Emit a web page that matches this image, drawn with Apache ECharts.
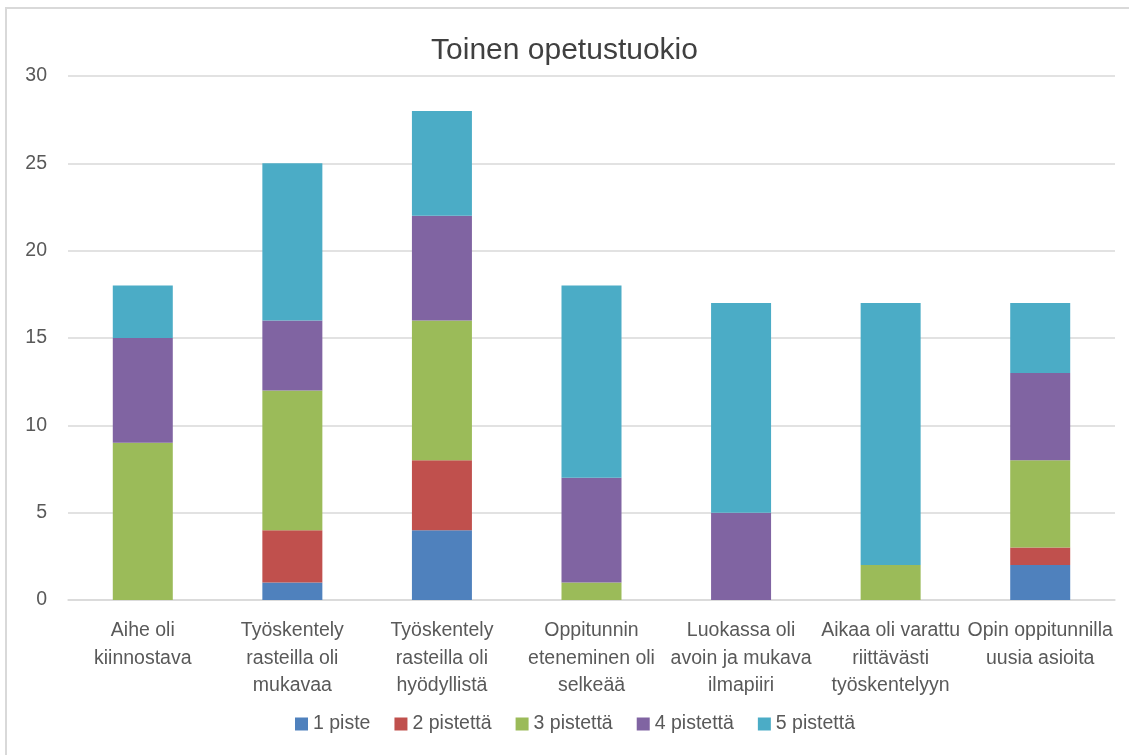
<!DOCTYPE html>
<html>
<head>
<meta charset="utf-8">
<script src="https://cdn.jsdelivr.net/npm/echarts@6/dist/echarts.min.js"></script>
<style>
  html, body { margin: 0; padding: 0; background: #fff; overflow: hidden; }
  #frame { position: absolute; left: 5px; top: 7px; width: 1140px; height: 770px; border: 2px solid #d9d9d9; box-sizing: border-box; }
  #chart { position: absolute; left: 0; top: 0; width: 1129px; height: 755px; }
</style>
</head>
<body>
<div id="frame"></div>
<div id="chart"></div>
<script>
const categories = [
  'Aihe oli\nkiinnostava',
  'Työskentely\nrasteilla oli\nmukavaa',
  'Työskentely\nrasteilla oli\nhyödyllistä',
  'Oppitunnin\neteneminen oli\nselkeää',
  'Luokassa oli\navoin ja mukava\nilmapiiri',
  'Aikaa oli varattu\nriittävästi\ntyöskentelyyn',
  'Opin oppitunnilla\nuusia asioita'
]
const seriesNames = ['1 piste', '2 pistettä', '3 pistettä', '4 pistettä', '5 pistettä']
const piste1 = [0, 1, 4, 0, 0, 0, 2]
const piste2 = [0, 3, 4, 0, 0, 0, 1]
const piste3 = [9, 8, 8, 1, 0, 2, 5]
const piste4 = [6, 4, 6, 6, 5, 0, 5]
const piste5 = [3, 9, 6, 11, 12, 15, 4]
const yTicks = [0, 5, 10, 15, 20, 25, 30]

const colors = ['#4f81bd', '#c0504d', '#9bbb59', '#8064a2', '#4bacc6']
const font = '"Liberation Sans Narrow", "Arial Narrow", "Liberation Sans", Arial, sans-serif'
const values = [piste1, piste2, piste3, piste4, piste5]

const chart = echarts.init(document.getElementById('chart'))
chart.setOption({
  animation: false,
  title: {
    text: 'Toinen opetustuokio',
    left: 'center',
    top: 31,
    textStyle: { fontFamily: font, fontSize: 30, fontWeight: 'normal', color: '#404040' }
  },
  legend: {
    data: seriesNames,
    top: 709,
    left: 290,
    itemWidth: 13,
    itemHeight: 13,
    itemGap: 24,
    icon: 'rect',
    textStyle: { fontFamily: font, fontSize: 19.5, color: '#595959' }
  },
  grid: { left: 68, right: 14, top: 76, bottom: 155 },
  xAxis: {
    type: 'category',
    data: categories,
    axisLine: { lineStyle: { color: '#d9d9d9', width: 1.5 } },
    axisTick: { show: false },
    axisLabel: {
      fontFamily: font, fontSize: 19.5, color: '#595959', margin: 17,
      lineHeight: 27.5, interval: 0
    }
  },
  yAxis: {
    type: 'value',
    min: yTicks[0],
    max: yTicks[yTicks.length - 1],
    interval: 5,
    axisLine: { show: false },
    axisTick: { show: false },
    splitLine: { lineStyle: { color: '#d9d9d9', width: 1.5 } },
    axisLabel: { fontFamily: font, fontSize: 19.5, color: '#595959', margin: 21 }
  },
  series: seriesNames.map((name, i) => ({
    name,
    type: 'bar',
    stack: 'total',
    data: values[i],
    barWidth: 60,
    itemStyle: { color: colors[i] }
  }))
})
</script>
</body>
</html>
